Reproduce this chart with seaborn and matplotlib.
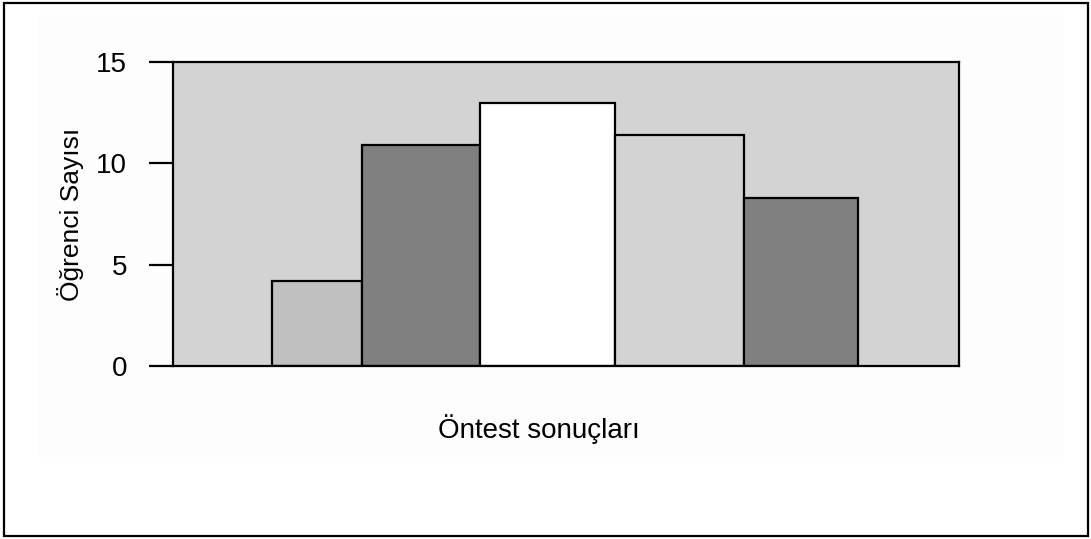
import numpy as np
import pandas as pd
import seaborn as sns
import matplotlib.pyplot as plt
from matplotlib.patches import Rectangle

# bar edges along the (unlabelled) x axis and the student counts
bin_edges = [99, 189, 307, 442, 571, 685]
counts = [4.2, 10.9, 13.0, 11.4, 8.3]
bar_colors = ['#c0c0c0', '#808080', '#ffffff', '#d3d3d3', '#808080']
y_ticks = [0, 5, 10, 15]

sns.set_style('white')
plt.rcParams['font.family'] = ['Liberation Sans', 'DejaVu Sans']
plt.rcParams['text.color'] = 'black'
plt.rcParams['axes.labelcolor'] = 'black'
plt.rcParams['ytick.color'] = 'black'

centers = [(a + b) / 2 for a, b in zip(bin_edges[:-1], bin_edges[1:])]
df = pd.DataFrame({'x': centers, 'n': counts})

fig = plt.figure(figsize=(10.91, 5.39), dpi=100)
# faint panel and outer frame
fig.patches.append(Rectangle((0.035, 0.152), 0.94, 0.82, transform=fig.transFigure,
                             facecolor='#fdfdfd', edgecolor='none', zorder=-2))
fig.patches.append(Rectangle((0.004, 0.005), 0.993, 0.99, transform=fig.transFigure,
                             facecolor='none', edgecolor='black', linewidth=1.6, zorder=5))

ax = fig.add_axes([0.1586, 0.321, 0.7204, 0.564])
ax.set_facecolor('#d3d3d3')

sns.histplot(data=df, x='x', weights='n', bins=bin_edges, ax=ax,
             edgecolor='black', linewidth=1.6, alpha=1)
for patch, c in zip(ax.patches, bar_colors):
    patch.set_facecolor(c)

ax.set_xlim(0, 786)
ax.set_ylim(0, 15)
ax.set_yticks(y_ticks)
ax.set_xticks([])
ax.tick_params(axis='y', direction='out', length=17, width=1.6, pad=16,
               labelsize=20, left=True, color='black', labelcolor='black')
for s in ax.spines.values():
    s.set_visible(True)
    s.set_color('black')
    s.set_linewidth(1.6)

ax.set_ylabel('Öğrenci Sayısı', fontsize=19)
ax.yaxis.set_label_coords(-0.113, 0.5)
ax.set_xlabel('Öntest sonuçları', fontsize=20)
ax.xaxis.set_label_coords(0.466, -0.16)

fig.savefig('out.png', dpi=100)
